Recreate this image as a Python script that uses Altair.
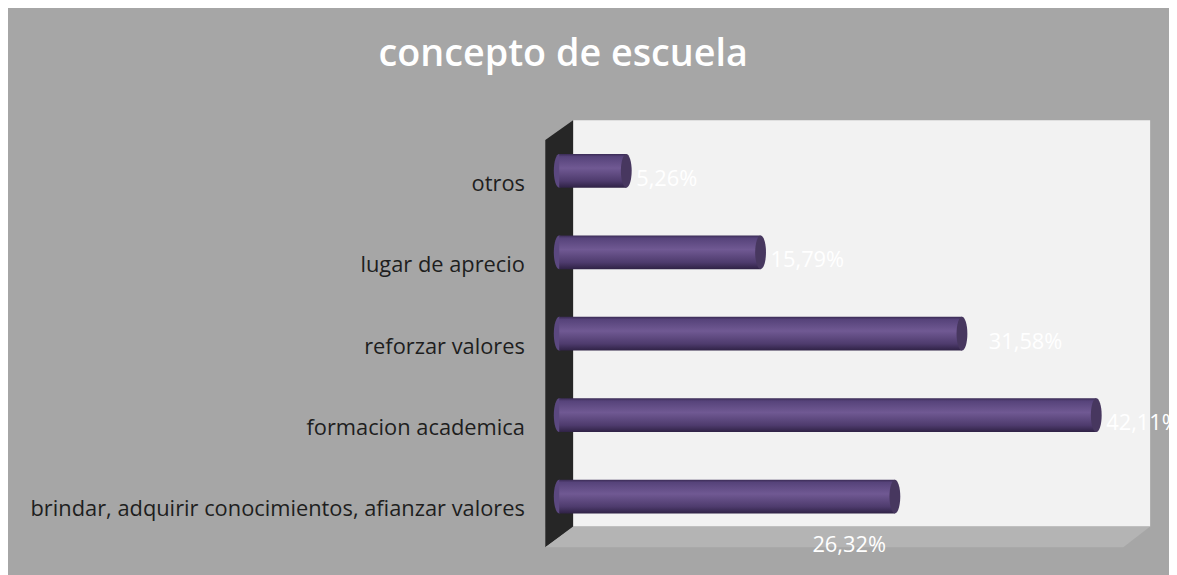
import altair as alt
import pandas as pd

# ---- data ----
categories = [
    "otros",
    "lugar de aprecio",
    "reforzar valores",
    "formacion academica",
    "brindar, adquirir conocimientos, afianzar valores",
]
values = [5.26, 15.79, 31.58, 42.11, 26.32]
labels = ["5,26%", "15,79%", "31,58%", "42,11%", "26,32%"]
title_text = "concepto de escuela"

df = pd.DataFrame({"cat": categories, "val": values, "lab": labels})
deco = pd.DataFrame({"k": [0]})

W, H = 592, 410
xs = alt.Scale(domain=[0, 46.1], nice=False, zero=True)
ys = alt.Scale(domain=categories, paddingInner=0, paddingOuter=0)

grad = alt.Gradient(
    gradient="linear", x1=0, y1=0, x2=0, y2=1,
    stops=[
        alt.GradientStop(offset=0, color="#3a2b55"),
        alt.GradientStop(offset=0.08, color="#56437a"),
        alt.GradientStop(offset=0.42, color="#705993"),
        alt.GradientStop(offset=0.8, color="#4e3b6d"),
        alt.GradientStop(offset=1, color="#2f2245"),
    ],
)

ellipse = "M0,-1 A0.32,1 0 1,1 0,1 A0.32,1 0 1,1 0,-1 Z"


def panel(path, color):
    return alt.Chart(deco).mark_point(
        shape=path, size=4, filled=True, color=color, opacity=1, strokeWidth=0
    ).encode(x=alt.value(0), y=alt.value(0))


wall = panel("M14,-10 L595,-10 L595,399 L14,399 Z", "#f2f2f2")
side = panel("M-14,10 L14,-10 L14,400 L-14,420 Z", "#262626")
floor = panel("M14,399 L595,399 L568,420 L-14,420 Z", "#b4b4b4")

base = alt.Chart(df)
yenc = alt.Y(
    "cat:N", scale=ys, sort=categories, title=None,
    axis=alt.Axis(
        labelFont="Open Sans", labelFontSize=22, labelColor="#1e1e1e",
        labelPadding=35, labelOffset=13, ticks=False, domain=False,
        grid=False, labelLimit=700,
    ),
)
xenc = alt.X("val:Q", scale=xs, axis=None)

left_cap = base.transform_calculate(zero="0").mark_point(
    shape=ellipse, size=1156, filled=True, color="#5b4880", opacity=1, strokeWidth=0
).encode(x=alt.X("zero:Q", scale=xs, axis=None), y=yenc)

bars = base.mark_bar(size=34, color=grad).encode(x=xenc, y=yenc)

right_cap = base.mark_point(
    shape=ellipse, size=1156, filled=True, color="#47375f", opacity=1, strokeWidth=0
).encode(x=xenc, y=yenc)

txt_style = dict(font="Open Sans", fontSize=22, color="white", baseline="middle")

txt_main = base.transform_filter(
    "datum.lab != '31,58%' && datum.lab != '26,32%'"
).mark_text(align="left", dx=10, dy=8, **txt_style).encode(
    x=xenc, y=yenc, text="lab:N"
)
txt_far = base.transform_filter("datum.lab == '31,58%'").mark_text(
    align="left", dx=27, dy=8, **txt_style
).encode(x=xenc, y=yenc, text="lab:N")
txt_floor = base.transform_filter("datum.lab == '26,32%'").mark_text(
    align="center", dx=-46, dy=49, **txt_style
).encode(x=xenc, y=yenc, text="lab:N")

chart = alt.layer(
    wall, side, floor, left_cap, bars, right_cap, txt_main, txt_far, txt_floor
).properties(
    width=W,
    height=H,
    background="#a6a6a6",
    padding={"left": 555, "right": 22, "top": 121, "bottom": 36},
    autosize=alt.AutoSizeParams(type="none"),
    title=alt.TitleParams(
        title_text, font="Open Sans", fontSize=38, fontWeight=600,
        color="white", anchor="middle", frame="group", dx=-292,
        offset=17, baseline="alphabetic",
    ),
).configure_view(strokeWidth=0)

chart.save("out.html", embed_options={"renderer": "svg", "actions": False})
